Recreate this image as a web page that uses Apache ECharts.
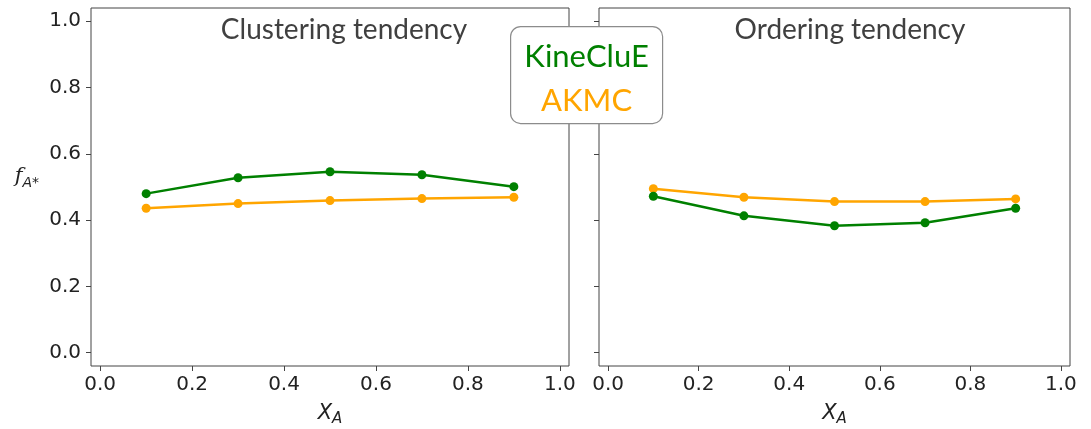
<!DOCTYPE html>
<html>
<head>
<meta charset="utf-8">
<script src="https://cdn.jsdelivr.net/npm/echarts@6/dist/echarts.min.js"></script>
<style>
  html, body { margin: 0; padding: 0; background: #fff; }
  #main { width: 1091px; height: 429px; }
</style>
</head>
<body>
<div id="main"></div>
<script>
// composition X_A
var xA = [0.1, 0.3, 0.5, 0.7, 0.9];

// clustering tendency panel
var clusterKine = [0.480, 0.528, 0.546, 0.537, 0.501];
var clusterAkmc = [0.436, 0.450, 0.459, 0.465, 0.469];

// ordering tendency panel
var orderKine = [0.472, 0.413, 0.383, 0.392, 0.436];
var orderAkmc = [0.495, 0.469, 0.456, 0.456, 0.464];

var tickVals = [0, 0.2, 0.4, 0.6, 0.8, 1.0];

var GREEN = '#008000', ORANGE = '#ffa500';

function pairs(xs, ys) {
  return xs.map(function (x, i) { return [x, ys[i]]; });
}

var chartDom = document.getElementById('main');
var myChart = echarts.init(chartDom);

var tickFont = { fontFamily: 'DejaVu Sans', fontSize: 20, color: '#222' };

function xAxisFor(idx) {
  return {
    gridIndex: idx, type: 'value', min: -0.02, max: 1.02,
    axisLine: { show: false, onZero: false },
    axisTick: { show: true, inside: false, length: 5, customValues: tickVals, lineStyle: { color: '#444' } },
    axisLabel: Object.assign({ customValues: tickVals, margin: 9,
      formatter: function (v) { return v.toFixed(1); } }, tickFont),
    splitLine: { show: false },
    name: '{x|X}{s|A}', nameLocation: 'middle', nameGap: 34,
    nameTextStyle: {
      rich: {
        x: { fontFamily: 'DejaVu Sans', fontStyle: 'italic', fontSize: 21, color: '#222' },
        s: { fontFamily: 'DejaVu Sans', fontStyle: 'italic', fontSize: 15, color: '#222', padding: [12, 0, 0, 0] }
      }
    }
  };
}

function yAxisFor(idx, showLabels) {
  var ax = {
    gridIndex: idx, type: 'value', min: -0.04, max: 1.04,
    axisLine: { show: false, onZero: false },
    axisTick: { show: true, inside: false, length: 5, customValues: tickVals, lineStyle: { color: '#444' } },
    axisLabel: Object.assign({ show: showLabels, customValues: tickVals, margin: 10,
      formatter: function (v) { return v.toFixed(1); } }, tickFont),
    splitLine: { show: false }
  };
  if (showLabels) {
    ax.name = '{f|f}{s|A*}';
    ax.nameLocation = 'middle';
    ax.nameRotate = 0;
    ax.nameGap = 52;
    ax.nameTextStyle = {
      padding: [0, 0, 20, 0],
      rich: {
        f: { fontFamily: 'DejaVu Serif', fontStyle: 'italic', fontSize: 21, color: '#222' },
        s: { fontFamily: 'DejaVu Sans', fontStyle: 'italic', fontSize: 14, color: '#222', padding: [12, 0, 0, 0] }
      }
    };
  }
  return ax;
}

function lineSeries(name, color, gi, ys) {
  return {
    name: name, type: 'line', xAxisIndex: gi, yAxisIndex: gi,
    data: pairs(xA, ys),
    symbol: 'circle', symbolSize: 9,
    lineStyle: { color: color, width: 2.5 },
    itemStyle: { color: color },
    z: name === 'KineCluE' ? 3 : 2
  };
}

var titleStyle = { fontFamily: 'Lato', fontWeight: 'normal', fontSize: 28, color: '#404040' };

var option = {
  animation: false,
  backgroundColor: '#fff',
  title: [
    { text: 'Clustering tendency', left: 339, top: 11, textAlign: 'center', textStyle: titleStyle },
    { text: 'Ordering tendency', left: 845, top: 11, textAlign: 'center', textStyle: titleStyle }
  ],
  grid: [
    { left: 91, top: 8, width: 478, height: 358, show: true, borderColor: '#444', borderWidth: 1,
      backgroundColor: 'transparent', outerBoundsMode: 'none', containLabel: false },
    { left: 599, top: 8, width: 471, height: 358, show: true, borderColor: '#444', borderWidth: 1,
      backgroundColor: 'transparent', outerBoundsMode: 'none', containLabel: false }
  ],
  xAxis: [xAxisFor(0), xAxisFor(1)],
  yAxis: [yAxisFor(0, true), yAxisFor(1, false)],
  series: [
    lineSeries('KineCluE', GREEN, 0, clusterKine),
    lineSeries('AKMC', ORANGE, 0, clusterAkmc),
    lineSeries('KineCluE', GREEN, 1, orderKine),
    lineSeries('AKMC', ORANGE, 1, orderAkmc)
  ],
  graphic: [
    {
      type: 'group', left: 510, top: 26, z: 100, zlevel: 1,
      children: [
        { type: 'rect', z: 100, shape: { x: 0, y: 0, width: 152, height: 97, r: 10 },
          style: { fill: '#fff', stroke: '#8c8c8c', lineWidth: 1.2 } },
        { type: 'text', z: 101, x: 76, y: 30, style: { text: 'KineCluE', fill: GREEN, fontFamily: 'Lato',
          fontSize: 31, align: 'center', verticalAlign: 'middle' } },
        { type: 'text', z: 101, x: 76, y: 74, style: { text: 'AKMC', fill: ORANGE, fontFamily: 'Lato',
          fontSize: 31, align: 'center', verticalAlign: 'middle' } }
      ]
    }
  ]
};

option && myChart.setOption(option);
</script>
</body>
</html>
